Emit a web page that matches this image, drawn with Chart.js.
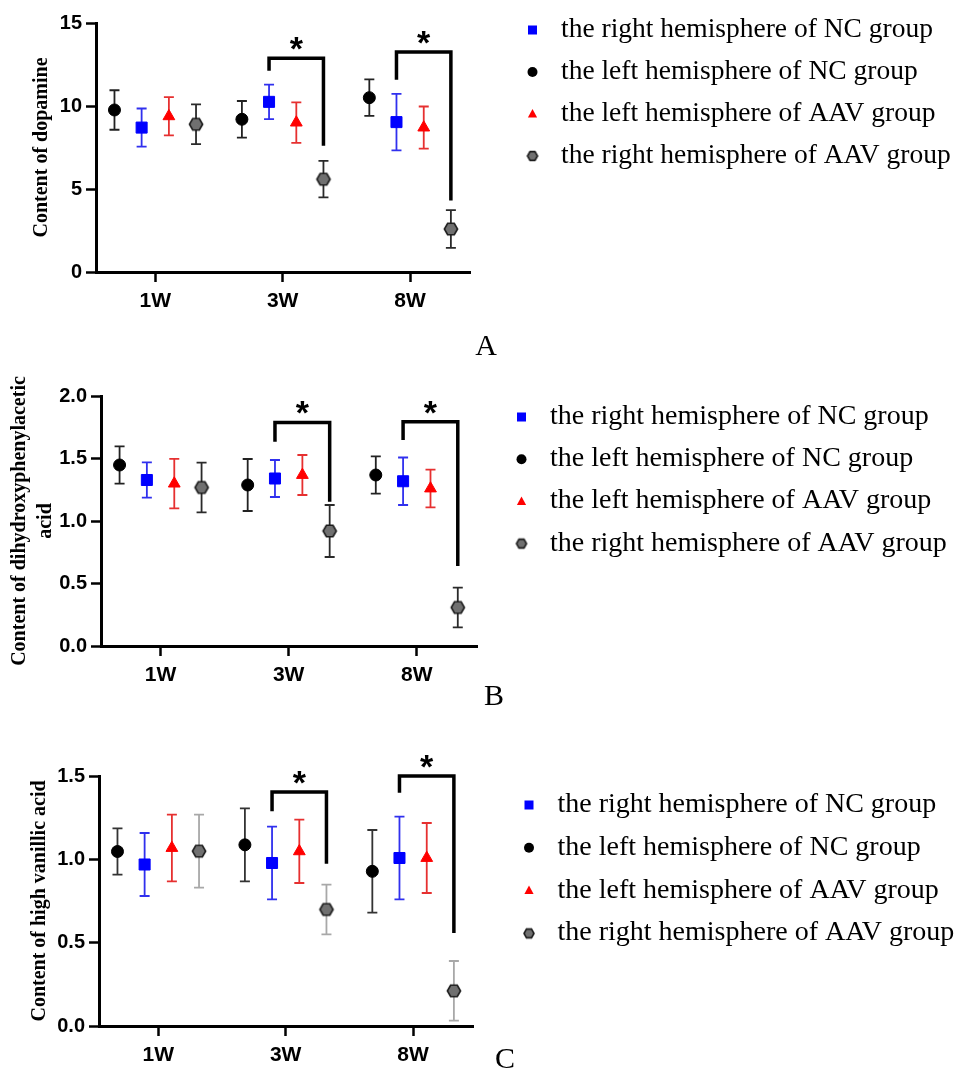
<!DOCTYPE html>
<html>
<head>
<meta charset="utf-8">
<script src="https://cdn.jsdelivr.net/npm/chart.js@4.4.1/dist/chart.umd.min.js"></script>
<style>
  html, body { margin: 0; padding: 0; background: #ffffff; }
  #page { position: relative; width: 964px; height: 1070px; }
  #page canvas { position: absolute; left: 0; }
</style>
</head>
<body>
<div id="page">
  <canvas id="graficoA" width="964" height="365" style="top:0px"></canvas>
  <canvas id="graficoB" width="964" height="350" style="top:365px"></canvas>
  <canvas id="graficoC" width="964" height="355" style="top:715px"></canvas>
</div>
<script>
// 1. DATA (mean and error of each group per week)
const weeks = ['1W', '3W', '8W'];
const legendLabels = [
    'the right hemisphere of NC group',
    'the left hemisphere of NC group',
    'the left hemisphere of AAV group',
    'the right hemisphere of AAV group'
];

// A - dopamine
const dopRightNC = [8.70, 10.25, 9.03];
const dopRightNCErr = [1.15, 1.04, 1.70];
const dopLeftNC = [9.76, 9.20, 10.50];
const dopLeftNCErr = [1.19, 1.10, 1.10];
const dopLeftAAV = [9.38, 9.00, 8.70];
const dopLeftAAVErr = [1.15, 1.22, 1.27];
const dopRightAAV = [8.90, 5.59, 2.59];
const dopRightAAVErr = [1.20, 1.10, 1.14];
const dopTicks = [0, 5, 10, 15];
// significance bracket: [top bar, left leg end, right leg end]
const dopSig3W = [12.88, 12.13, 7.61];
const dopSig8W = [13.25, 11.58, 4.31];

// B - dihydroxyphenylacetic acid
const dopacRightNC = [1.328, 1.340, 1.318];
const dopacRightNCErr = [0.141, 0.148, 0.190];
const dopacLeftNC = [1.448, 1.288, 1.368];
const dopacLeftNCErr = [0.149, 0.208, 0.149];
const dopacLeftAAV = [1.299, 1.368, 1.260];
const dopacLeftAAVErr = [0.198, 0.160, 0.151];
const dopacRightAAV = [1.268, 0.920, 0.308];
const dopacRightAAVErr = [0.199, 0.208, 0.159];
const dopacTicks = [0, 0.5, 1.0, 1.5, 2.0];
const dopacSig3W = [1.789, 1.635, 1.155];
const dopacSig8W = [1.795, 1.648, 0.640];

// C - high vanillic acid
const hvaRightNC = [0.969, 0.978, 1.008];
const hvaRightNCErr = [0.189, 0.218, 0.248];
const hvaLeftNC = [1.047, 1.087, 0.928];
const hvaLeftNCErr = [0.139, 0.219, 0.248];
const hvaLeftAAV = [1.068, 1.048, 1.008];
const hvaLeftAAVErr = [0.200, 0.190, 0.210];
const hvaRightAAV = [1.049, 0.699, 0.211];
const hvaRightAAVErr = [0.219, 0.149, 0.179];
const hvaTicks = [0, 0.5, 1.0, 1.5];
const hvaSig3W = [1.404, 1.288, 0.974];
const hvaSig8W = [1.500, 1.400, 0.558];

// 2. MARKERS AND SERIES STYLE (legend order)
function makeHexagon(r, fill, stroke) {
    const c = document.createElement('canvas');
    const size = Math.ceil(2 * r + 4);
    c.width = size;
    c.height = size;
    const g = c.getContext('2d');
    g.beginPath();
    for (let k = 0; k < 6; k++) {
        const a = Math.PI / 3 * k;
        const px = size / 2 + r * Math.cos(a);
        const py = size / 2 + r * Math.sin(a);
        if (k === 0) g.moveTo(px, py); else g.lineTo(px, py);
    }
    g.closePath();
    g.fillStyle = fill;
    g.fill();
    g.lineWidth = 1.6;
    g.strokeStyle = stroke;
    g.stroke();
    return c;
}
const hexBig = makeHexagon(6.6, '#707070', '#1c1c1c');
const hexSmall = makeHexagon(5, '#707070', '#1c1c1c');

const seriesStyle = [
    { offset: -0.107, pointStyle: 'rect', radius: 7.8, color: '#0000ff', border: '#0000ff' },
    { offset: -0.32, pointStyle: 'circle', radius: 6, color: '#000000', border: '#000000' },
    { offset: 0.107, pointStyle: 'triangle', radius: 6.8, color: '#ff0000', border: '#ff0000' },
    { offset: 0.32, pointStyle: hexBig, radius: 6.6, color: '#707070', border: '#1c1c1c' }
];

// 3. PLUGINS: error bars, significance brackets, side legend, panel letter
const errorBarsPlugin = {
    id: 'errorBars',
    beforeDatasetsDraw(chart) {
        const ctx = chart.ctx;
        const yScale = chart.scales.y;
        chart.data.datasets.forEach((ds, d) => {
            const meta = chart.getDatasetMeta(d);
            meta.data.forEach((pt, i) => {
                const v = ds.data[i].y;
                const e = ds.errors[i];
                const yTop = yScale.getPixelForValue(v + e);
                const yBot = yScale.getPixelForValue(v - e);
                ctx.save();
                ctx.strokeStyle = ds.errorColor;
                ctx.lineWidth = 1.8;
                ctx.beginPath();
                ctx.moveTo(pt.x, yTop); ctx.lineTo(pt.x, yBot);
                ctx.moveTo(pt.x - 5, yTop); ctx.lineTo(pt.x + 5, yTop);
                ctx.moveTo(pt.x - 5, yBot); ctx.lineTo(pt.x + 5, yBot);
                ctx.stroke();
                ctx.restore();
            });
        });
    }
};

const extrasPlugin = {
    id: 'extras',
    afterDraw(chart) {
        const ctx = chart.ctx;
        const opts = chart.options.plugins.extras;
        const xScale = chart.scales.x;
        const yScale = chart.scales.y;

        // brackets with stars
        opts.brackets.forEach(b => {
            const xL = xScale.getPixelForValue(b.cat + seriesStyle[0].offset);
            const xR = xScale.getPixelForValue(b.cat + seriesStyle[3].offset);
            const yTop = yScale.getPixelForValue(b.sig[0]);
            ctx.save();
            ctx.strokeStyle = '#000';
            ctx.lineWidth = 3.5;
            ctx.lineJoin = 'miter';
            ctx.beginPath();
            ctx.moveTo(xL, yScale.getPixelForValue(b.sig[1]));
            ctx.lineTo(xL, yTop);
            ctx.lineTo(xR, yTop);
            ctx.lineTo(xR, yScale.getPixelForValue(b.sig[2]));
            ctx.stroke();
            ctx.fillStyle = '#000';
            ctx.font = 'bold 34px "Liberation Sans", Arial, sans-serif';
            ctx.textAlign = 'center';
            ctx.textBaseline = 'alphabetic';
            ctx.fillText('*', (xL + xR) / 2, yTop + 2);
            ctx.restore();
        });

        // legend on the right
        const lg = opts.legend;
        ctx.save();
        legendLabels.forEach((label, k) => {
            const y = lg.rowY + k * lg.rowGap;
            const x = lg.markerX;
            const st = seriesStyle[k];
            ctx.fillStyle = st.color;
            if (st.pointStyle === 'rect') {
                ctx.fillRect(x - 4.5, y - 4.5, 9, 9);
            } else if (st.pointStyle === 'circle') {
                ctx.beginPath(); ctx.arc(x, y, 5, 0, Math.PI * 2); ctx.fill();
            } else if (st.pointStyle === 'triangle') {
                ctx.beginPath();
                ctx.moveTo(x, y - 5); ctx.lineTo(x + 4.6, y + 3.5); ctx.lineTo(x - 4.6, y + 3.5);
                ctx.closePath(); ctx.fill();
            } else {
                ctx.drawImage(hexSmall, x - hexSmall.width / 2, y - hexSmall.height / 2);
            }
            ctx.fillStyle = '#000';
            ctx.font = lg.fontSize + 'px "Liberation Serif", "Times New Roman", serif';
            ctx.textAlign = 'left';
            ctx.textBaseline = 'alphabetic';
            ctx.fillText(label, lg.textX, y + 7);
        });

        // panel letter
        ctx.font = '30px "Liberation Serif", "Times New Roman", serif';
        ctx.textAlign = 'center';
        ctx.fillText(opts.letter.text, opts.letter.x, opts.letter.y);
        ctx.restore();
    }
};

// 4. PANEL BUILDER
function buildPanel(p) {
    const datasets = legendLabels.map((label, k) => {
        const st = seriesStyle[k];
        return {
            label: label,
            data: p.values[k].map((v, i) => ({ x: i + 1 + st.offset, y: v })),
            errors: p.errors[k],
            errorColor: p.errorColors[k],
            pointStyle: st.pointStyle,
            pointRadius: st.radius,
            pointHoverRadius: st.radius,
            pointBackgroundColor: st.color,
            pointBorderColor: st.border,
            pointBorderWidth: 1,
            showLine: false
        };
    });

    const tickFont = { family: '"Liberation Sans", Arial, sans-serif', weight: 'bold' };

    return new Chart(document.getElementById(p.canvas).getContext('2d'), {
        type: 'scatter',
        data: { datasets: datasets },
        plugins: [errorBarsPlugin, extrasPlugin],
        options: {
            responsive: false,
            animation: false,
            events: [],
            layout: { padding: { top: p.padding.top, right: p.padding.right, bottom: p.padding.bottom, left: 0 } },
            plugins: {
                legend: { display: false },
                tooltip: { enabled: false },
                extras: { brackets: p.brackets, legend: p.legend, letter: p.letter }
            },
            scales: {
                x: {
                    type: 'linear',
                    min: 0.535,
                    max: 3.47,
                    afterBuildTicks: s => { s.ticks = weeks.map((w, i) => ({ value: i + 1 })); },
                    afterFit: s => { s.height = 40; },
                    ticks: {
                        callback: v => weeks[Math.round(v) - 1],
                        font: Object.assign({ size: 21 }, tickFont),
                        color: '#000',
                        padding: 7,
                        autoSkip: false,
                        maxRotation: 0
                    },
                    grid: { drawOnChartArea: false, drawTicks: true, tickLength: 10, tickWidth: 2.5, tickColor: '#000' },
                    border: { color: '#000', width: 3 }
                },
                y: {
                    min: p.ticks[0],
                    max: p.ticks[p.ticks.length - 1],
                    afterBuildTicks: s => { s.ticks = p.ticks.map(v => ({ value: v })); },
                    afterFit: s => { s.width = p.axisLeft; },
                    ticks: {
                        callback: v => v.toFixed(p.decimals),
                        font: Object.assign({ size: 20 }, tickFont),
                        color: '#000',
                        padding: 4
                    },
                    grid: { drawOnChartArea: false, drawTicks: true, tickLength: 10, tickWidth: 2.5, tickColor: '#000' },
                    border: { color: '#000', width: 3 },
                    title: {
                        display: true,
                        text: p.title,
                        color: '#000',
                        font: { family: '"Liberation Serif", "Times New Roman", serif', size: 20, weight: 'bold', lineHeight: 1.3 },
                        padding: { top: p.titlePad, bottom: 0 }
                    }
                }
            }
        }
    });
}

// 5. THE THREE PANELS
buildPanel({
    canvas: 'graficoA',
    title: 'Content of dopamine',
    titlePad: 28.5,
    values: [dopRightNC, dopLeftNC, dopLeftAAV, dopRightAAV],
    errors: [dopRightNCErr, dopLeftNCErr, dopLeftAAVErr, dopRightAAVErr],
    errorColors: ['#3030ee', '#222222', '#e63030', '#2a2a2a'],
    ticks: dopTicks,
    decimals: 0,
    brackets: [{ cat: 2, sig: dopSig3W }, { cat: 3, sig: dopSig8W }],
    axisLeft: 96,
    padding: { top: 23, right: 494, bottom: 53 },
    legend: { markerX: 532.5, textX: 561, rowY: 30, rowGap: 42, fontSize: 27.5 },
    letter: { text: 'A', x: 486, y: 355 }
});

buildPanel({
    canvas: 'graficoB',
    title: ['Content of dihydroxyphenylacetic', 'acid'],
    titlePad: 7,
    values: [dopacRightNC, dopacLeftNC, dopacLeftAAV, dopacRightAAV],
    errors: [dopacRightNCErr, dopacLeftNCErr, dopacLeftAAVErr, dopacRightAAVErr],
    errorColors: ['#3030ee', '#222222', '#e63030', '#2a2a2a'],
    ticks: dopacTicks,
    decimals: 1,
    brackets: [{ cat: 2, sig: dopacSig3W }, { cat: 3, sig: dopacSig8W }],
    axisLeft: 101,
    padding: { top: 31, right: 487, bottom: 29 },
    legend: { markerX: 521.5, textX: 550, rowY: 52, rowGap: 42.2, fontSize: 28 },
    letter: { text: 'B', x: 494, y: 340 }
});

buildPanel({
    canvas: 'graficoC',
    title: 'Content of high vanillic acid',
    titlePad: 27,
    values: [hvaRightNC, hvaLeftNC, hvaLeftAAV, hvaRightAAV],
    errors: [hvaRightNCErr, hvaLeftNCErr, hvaLeftAAVErr, hvaRightAAVErr],
    errorColors: ['#3030ee', '#333333', '#e63030', '#a8a8a8'],
    ticks: hvaTicks,
    decimals: 1,
    brackets: [{ cat: 2, sig: hvaSig3W }, { cat: 3, sig: hvaSig8W }],
    axisLeft: 99,
    padding: { top: 61, right: 491, bottom: 4 },
    legend: { markerX: 529, textX: 557.5, rowY: 90, rowGap: 42.8, fontSize: 28 },
    letter: { text: 'C', x: 505, y: 353 }
});
</script>
</body>
</html>
